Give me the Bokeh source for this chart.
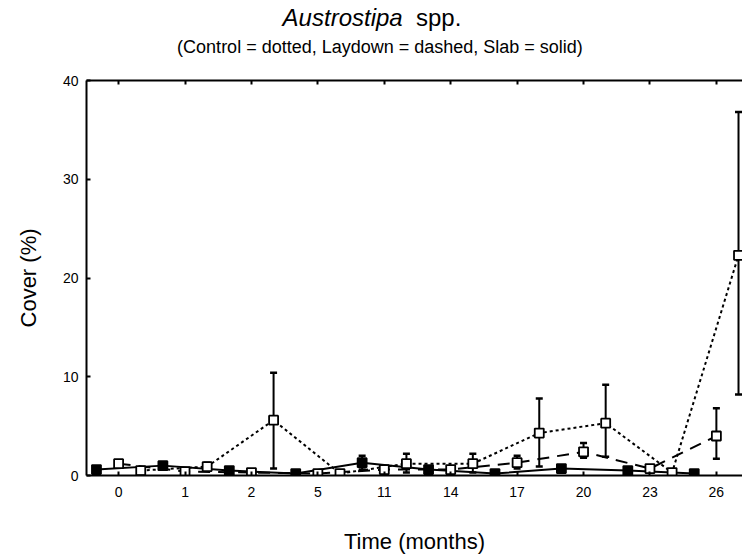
from bokeh.plotting import figure
from bokeh.models import Range1d, FixedTicker, LinearAxis, Div
from bokeh.layouts import column
from bokeh.embed import file_html
from bokeh.resources import INLINE

# ---- data ----
times = ["0", "1", "2", "5", "11", "14", "17", "20", "23", "26"]

slab = [0.6, 1.0, 0.5, 0.2, 1.3, 0.6, 0.2, 0.7, 0.5, 0.2]
slab_lo = [0.6, 1.0, 0.5, 0.2, 0.6, 0.6, 0.2, 0.7, 0.5, 0.2]
slab_hi = [0.6, 1.0, 0.5, 0.2, 2.0, 0.6, 0.2, 0.7, 0.5, 0.2]

laydown = [1.2, 0.4, 0.3, 0.2, 0.6, 0.6, 1.3, 2.4, 0.7, 4.0]
laydown_lo = [0.8, 0.4, 0.3, 0.2, 0.6, 0.6, 0.7, 1.8, 0.7, 1.7]
laydown_hi = [1.5, 0.4, 0.3, 0.2, 0.6, 0.6, 2.0, 3.3, 0.7, 6.8]

control = [0.5, 0.9, 5.6, 0.2, 1.2, 1.2, 4.3, 5.3, 0.3, 22.3]
control_lo = [0.5, 0.5, 0.7, 0.2, 0.3, 0.3, 0.9, 1.9, 0.3, 8.2]
control_hi = [0.5, 1.3, 10.4, 0.2, 2.2, 2.2, 7.8, 9.2, 0.3, 36.8]

y_ticks = [0, 10, 20, 30, 40]

title_italic = "Austrostipa"
title_rest = "spp."
subtitle = "(Control = dotted, Laydown = dashed, Slab = solid)"

FONT = "Liberation Sans"
n = len(times)


def xs(k):
    return [3 * i + k for i in range(n)]


TOP_H = 66
p = figure(width=742, height=559 - TOP_H, output_backend="svg", toolbar_location=None,
           x_range=Range1d(-0.45, 29.18), y_range=Range1d(0, 40),
           min_border_left=86, min_border_right=0, min_border_top=80 - TOP_H,
           min_border_bottom=84)
p.outline_line_color = None
p.grid.visible = False
p.background_fill_color = "white"
p.border_fill_color = "white"

tick_pos = xs(1)
xa = p.xaxis[0]
xa.ticker = FixedTicker(ticks=tick_pos)
xa.major_label_overrides = {t: lab for t, lab in zip(tick_pos, times)}
xa.minor_tick_line_color = None
xa.major_tick_in = 4
xa.major_tick_out = 0
xa.axis_line_width = 2
xa.major_tick_line_width = 2
xa.major_label_standoff = 11
xa.major_label_text_font = FONT
xa.major_label_text_font_size = "14px"
xa.major_label_text_color = "black"
xa.axis_label = "Time (months)"
xa.axis_label_text_font = FONT
xa.axis_label_text_font_size = "22px"
xa.axis_label_text_font_style = "normal"
xa.axis_label_text_color = "black"
xa.axis_label_standoff = 29

ya = p.yaxis[0]
ya.ticker = FixedTicker(ticks=y_ticks)
ya.minor_tick_line_color = None
ya.major_tick_in = 4
ya.major_tick_out = 0
ya.axis_line_width = 2
ya.major_tick_line_width = 2
ya.major_label_standoff = 8
ya.major_label_text_font = FONT
ya.major_label_text_font_size = "14px"
ya.major_label_text_color = "black"
ya.axis_label = "Cover (%)"
ya.axis_label_text_font = FONT
ya.axis_label_text_font_size = "22px"
ya.axis_label_text_font_style = "normal"
ya.axis_label_text_color = "black"
ya.axis_label_standoff = 19

# top frame edge with inward ticks, no labels
top = LinearAxis(ticker=FixedTicker(ticks=tick_pos),
                 major_label_overrides={t: "" for t in tick_pos},
                 major_label_standoff=0, major_tick_in=4, major_tick_out=0,
                 axis_line_width=2, major_tick_line_width=2, minor_tick_line_color=None)
p.add_layout(top, "above")

# ---- lines ----
p.line(xs(2), control, line_color="black", line_width=2, line_dash="3 3")
p.line(xs(1), laydown, line_color="black", line_width=2, line_dash="12 8")
p.line(xs(0), slab, line_color="black", line_width=2)

# ---- error bars ----
for k, lo, hi in [(0, slab_lo, slab_hi), (1, laydown_lo, laydown_hi), (2, control_lo, control_hi)]:
    ex, elo, ehi = [], [], []
    for x, a, b in zip(xs(k), lo, hi):
        if b - a > 0.05:
            ex.append(x); elo.append(a); ehi.append(b)
    p.segment(x0=ex, y0=elo, x1=ex, y1=ehi, line_color="black", line_width=2)
    p.scatter(ex + ex, elo + ehi, marker="dash", size=7, line_color="black", line_width=2.5)

# ---- markers ----
p.scatter(xs(2), control, marker="square", size=9, fill_color="white", line_color="black", line_width=1.8)
p.scatter(xs(1), laydown, marker="square", size=9, fill_color="white", line_color="black", line_width=1.8)
p.scatter(xs(0), slab, marker="square", size=9, fill_color="black", line_color="black", line_width=1.8)

# ---- titles ----
head = Div(width=742, height=TOP_H, margin=0, text=(
    '<div style="position:relative;width:742px;height:%dpx;'
    'font-family:\'Liberation Sans\',Arial,sans-serif;color:#000;">'
    '<div style="position:absolute;left:22px;top:6px;width:700px;text-align:center;'
    'font-size:24px;line-height:24px;white-space:nowrap;"><i>%s</i>&nbsp;&nbsp;%s</div>'
    '<div style="position:absolute;left:30px;top:38px;width:700px;text-align:center;'
    'font-size:18px;line-height:18px;white-space:nowrap;">%s</div></div>'
) % (TOP_H, title_italic, title_rest, subtitle))

layout = column(head, p, spacing=0, margin=0)
open("out.html", "w").write(file_html(layout, INLINE))
